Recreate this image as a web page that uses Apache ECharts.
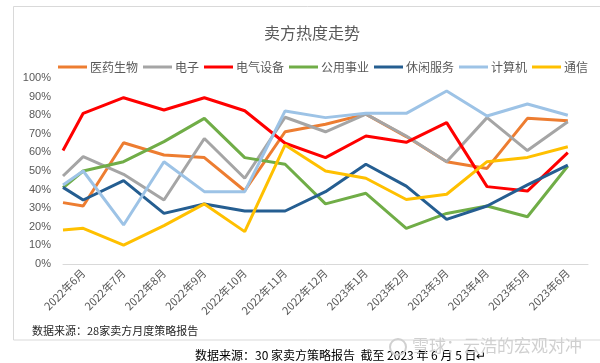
<!DOCTYPE html>
<html><head><meta charset="utf-8">
<script src="https://cdn.jsdelivr.net/npm/echarts@6/dist/echarts.min.js"></script>
<style>html,body{margin:0;padding:0;background:#fff;}#c{width:600px;height:363px;}</style>
</head><body><div id="c"></div>
<script>
const categories = ['2022年6月','2022年7月','2022年8月','2022年9月','2022年10月','2022年11月','2022年12月','2023年1月','2023年2月','2023年3月','2023年4月','2023年5月','2023年6月'];
const yTicks = [0,0.1,0.2,0.3,0.4,0.5,0.6,0.7,0.8,0.9,1.0];
// first value = line entering at the left edge of the plot, then one value per month
const pharma   = [0.33,0.312,0.652,0.586,0.572,0.394,0.711,0.751,0.806,0.685,0.55,0.514,0.783,0.77];
const electron = [0.473,0.577,0.482,0.344,0.675,0.461,0.789,0.711,0.806,0.688,0.55,0.787,0.61,0.765];
const electric = [0.61,0.81,0.894,0.828,0.894,0.824,0.649,0.572,0.688,0.654,0.76,0.416,0.392,0.599];
const utility  = [0.41,0.50,0.55,0.658,0.783,0.572,0.536,0.323,0.38,0.192,0.272,0.312,0.254,0.527];
const leisure  = [0.412,0.344,0.448,0.272,0.323,0.285,0.285,0.389,0.536,0.419,0.24,0.312,0.425,0.532];
const computer = [0.425,0.50,0.21,0.55,0.389,0.389,0.823,0.787,0.81,0.81,0.93,0.796,0.86,0.80];
const telecom  = [0.183,0.192,0.102,0.206,0.323,0.174,0.64,0.50,0.461,0.347,0.375,0.55,0.573,0.63];
const seriesNames = ['医药生物','电子','电气设备','公用事业','休闲服务','计算机','通信'];
const seriesData = [pharma, electron, electric, utility, leisure, computer, telecom];
const colors = ['#ED7D31','#A5A5A5','#FF0000','#70AD47','#255E91','#9DC3E6','#FFC000'];

const chart = echarts.init(document.getElementById('c'), null, {renderer:'canvas'});
const font = '"Noto Sans CJK SC", "Noto Sans", sans-serif';
function toPairs(arr){ return arr.map((v,i)=>[i===0 ? -0.5 : i-1, v]); }

chart.setOption({
  animation:false,
  backgroundColor:'#fff',
  textStyle:{fontFamily:font},
  title:{text:'卖方热度走势', left:307, textAlign:'center', top:20,
    textStyle:{fontSize:16, fontWeight:'normal', color:'#595959', fontFamily:font}},
  legend:{left:53, top:56, icon:'rect', itemWidth:29, itemHeight:3, itemGap:5,
    textStyle:{fontSize:12, color:'#595959', fontFamily:font, padding:[0,0,0,-2]},
    data:seriesNames},
  grid:{left:63, right:12, top:78, bottom:99},
  xAxis:[
    {type:'category', data:categories, boundaryGap:true,
      axisLine:{show:true, lineStyle:{color:'#D9D9D9', width:1}}, axisTick:{show:false},
      axisLabel:{rotate:45, fontSize:11, color:'#595959', margin:7, interval:0, fontFamily:font}},
    {type:'value', min:-0.5, max:12.5, show:false}
  ],
  yAxis:{type:'value', min:yTicks[0], max:yTicks[yTicks.length-1], interval:0.1,
    axisLine:{show:false}, axisTick:{show:false}, splitLine:{show:false},
    axisLabel:{fontSize:11, color:'#595959', margin:12, fontFamily:'"Liberation Sans", Arial, sans-serif',
      formatter:v=>Math.round(v*100)+'%'}},
  series: seriesNames.map((n,i)=>({
    name:n, type:'line', xAxisIndex:1, data:toPairs(seriesData[i]),
    showSymbol:false, symbol:'none', clip:true,
    lineStyle:{color:colors[i], width:3}, itemStyle:{color:colors[i]}
  })),
  graphic:[
    {type:'rect', shape:{x:13.5, y:6.5, width:600, height:333.5}, style:{fill:null, stroke:'#D9D9D9', lineWidth:1}, silent:true},
    {type:'text', left:32, top:325, style:{text:'数据来源：28家卖方月度策略报告', font:'11px '+font, fill:'#262626'}},
    {type:'text', left:195, top:349, style:{text:'数据来源：30 家卖方策略报告  截至 2023 年 6 月 5 日↵', font:'12px '+font, fill:'#000'}},
    {type:'circle', shape:{cx:398, cy:347, r:8}, style:{fill:null, stroke:'#D0D0D0', lineWidth:2}},
    {type:'text', left:412, top:337, style:{text:'雪球：云浩的宏观对冲', font:'17px '+font, fill:'#D0D0D0'}}
  ]
});
</script></body></html>
